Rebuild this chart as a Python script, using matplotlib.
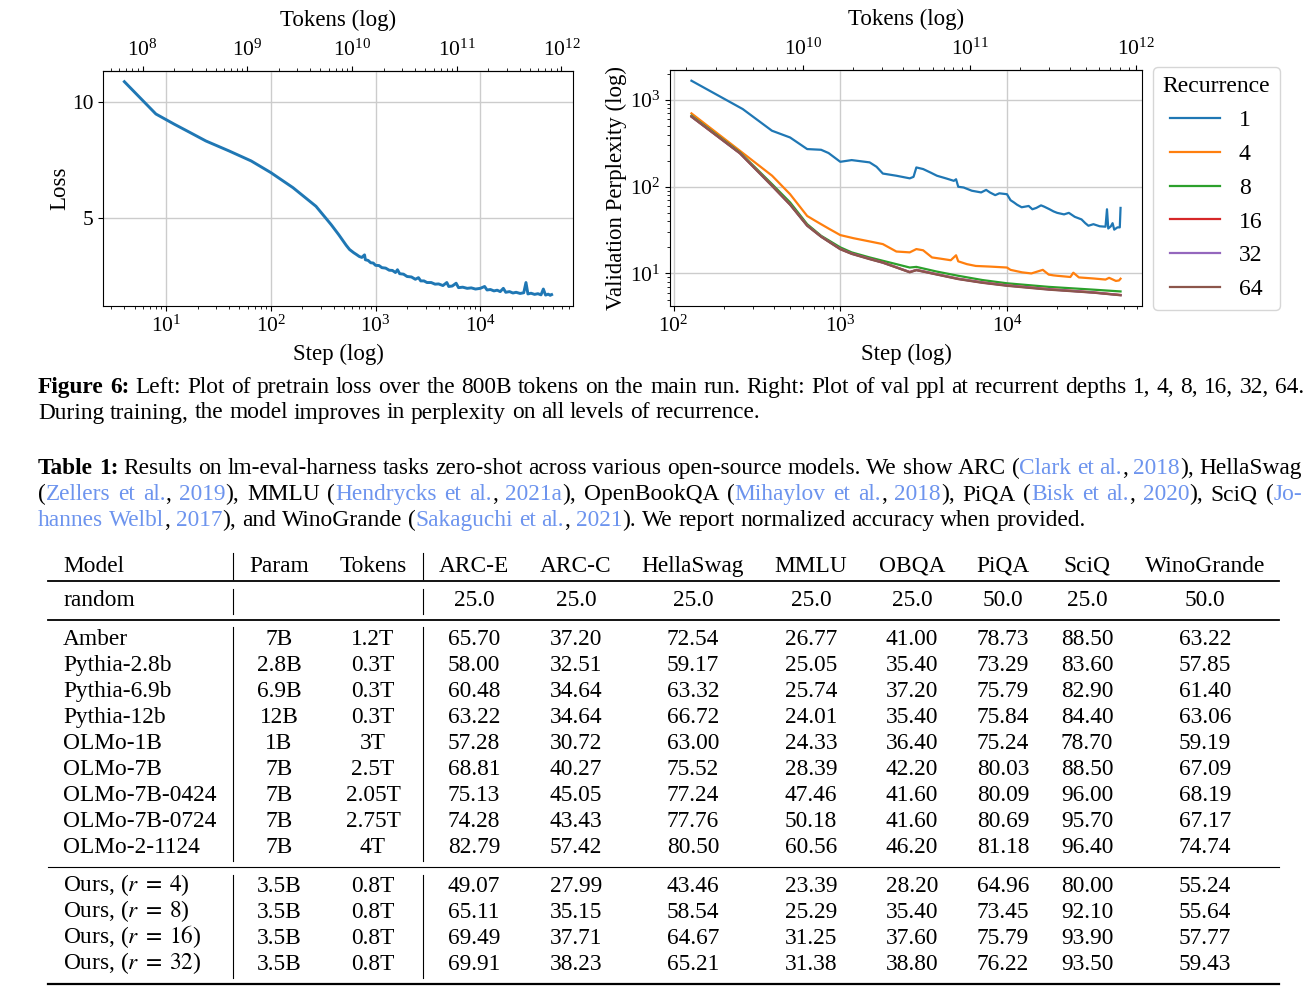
import matplotlib
matplotlib.use('Agg')
import matplotlib.pyplot as plt
from matplotlib.lines import Line2D
import numpy as np

# ---------------- data ----------------
TOKENS_PER_STEP = 4096 * 4096

loss_steps = [4, 8, 12, 17, 24, 40, 65, 100, 163, 270, 377, 445, 525, 565, 620, 660, 700, 740, 785, 800,
              850, 900, 950, 1000, 1080, 1150, 1250, 1350, 1450, 1550, 1620, 1700, 1850, 2000, 2200,
              2400, 2570, 2700, 2900, 3100, 3400, 3700, 4000, 4400, 4790, 5000, 5400, 5880, 6200,
              6800, 7500, 8200, 9000, 10000, 11000, 11600, 12500, 13500, 14500, 15500, 16600, 17500,
              19000, 20500, 22000, 24000, 26000, 27300, 28500, 30500, 33000, 35500, 38000, 40000,
              42000, 44500, 46500, 48000]
loss_vals = [10.86, 9.47, 9.03, 8.67, 8.31, 7.88, 7.45, 6.95, 6.30, 5.50, 4.71, 4.28, 3.82, 3.64, 3.50,
             3.42, 3.34, 3.30, 3.41, 3.20, 3.17, 3.07, 3.06, 2.96, 2.95, 2.86, 2.84, 2.75, 2.74,
             2.65, 2.77, 2.60, 2.58, 2.48, 2.46, 2.36, 2.43, 2.29, 2.29, 2.22, 2.22, 2.15, 2.16,
             2.09, 2.22, 2.05, 2.07, 2.19, 2.00, 2.02, 1.97, 1.99, 1.94, 1.97, 2.05, 1.90, 1.92,
             1.86, 1.89, 1.83, 1.97, 1.80, 1.83, 1.77, 1.80, 1.75, 1.78, 2.22, 1.73, 1.76, 1.71,
             1.74, 1.69, 1.94, 1.68, 1.72, 1.67, 1.70]

ppl_r1_steps = [128, 260, 389, 500, 633, 767, 850, 1000, 1170, 1500, 1650, 1800, 2170, 2610, 2750,
                2860, 3140, 3500, 3800, 4300, 4800, 4950, 5100, 5500, 6150, 7000, 7500, 7900, 8500,
                9000, 10000, 10500, 11000, 11500, 12250, 13500, 14200, 15000, 16000, 16700, 18000,
                19000, 20000, 22000, 23500, 25500, 28000, 29500, 30800, 33000, 36000, 39000, 39800,
                40500, 42000, 43000, 44000, 46000, 47500, 48000]
ppl_r1 = [1671, 787, 443, 370, 272, 267, 245, 194, 203, 191, 170, 142, 134, 125, 130, 167, 160, 145,
          134, 125, 117, 122, 100, 98, 90, 86, 92, 86, 80, 84, 82, 70, 66, 62, 58, 60, 55, 57, 61,
          59, 55, 52, 50, 48, 50, 45, 42, 38, 35.5, 37, 35, 34.6, 55, 33, 35, 38, 32, 34, 34, 57]

ppl_r4_steps = [128, 250, 390, 500, 633, 700, 767, 850, 1000, 1200, 1500, 1800, 2170, 2610, 2860,
                3140, 3550, 4000, 4600, 4950, 5100, 5750, 6500, 7900, 10000, 10500, 12300, 14000,
                16400, 17800, 19000, 20000, 24000, 25000, 27000, 33000, 39000, 41000, 45000, 47000,
                48000]
ppl_r4 = [702, 260, 134, 82, 46, 41, 37, 33, 27.7, 25.5, 23.4, 21.8, 17.9, 17.5, 19.1, 18.5, 15.3,
          14.8, 14.2, 16.2, 13.8, 12.8, 12.2, 12.0, 11.7, 11.0, 10.3, 10.0, 11.0, 9.7, 9.5, 9.4,
          9.1, 10.2, 9.0, 8.75, 8.5, 8.9, 8.2, 8.3, 8.7]

ppl_deep_steps = [128, 250, 390, 500, 633, 767, 1000, 1170, 1500, 1800, 2170, 2610, 2860, 3800, 5100,
                  7100, 10000, 17800, 33000, 48000]
ppl_r8 = [660, 249, 107, 66, 37, 27.2, 20, 17.5, 15.3, 14.0, 12.8, 11.7, 11.9, 10.5, 9.4, 8.4, 7.7,
          7.0, 6.5, 6.2]
ppl_r16 = [646, 244, 103, 62.5, 35.8, 26.7, 19.2, 17.0, 14.8, 13.4, 11.8, 10.4, 11.0, 9.8, 8.7, 7.9,
           7.3, 6.6, 6.05, 5.65]
ppl_r32 = [644, 243, 102, 62.2, 35.6, 26.6, 19.1, 16.9, 14.7, 13.3, 11.75, 10.35, 10.95, 9.75, 8.65,
           7.85, 7.25, 6.55, 6.02, 5.62]
ppl_r64 = [643, 243, 102, 62, 35.5, 26.5, 19, 16.8, 14.6, 13.3, 11.7, 10.3, 10.9, 9.7, 8.6, 7.8, 7.2,
           6.5, 6.0, 5.6]
recurrence_labels = ['1', '4', '8', '16', '32', '64']

table_cols = ['Model', 'Param', 'Tokens', 'ARC-E', 'ARC-C', 'HellaSwag', 'MMLU', 'OBQA', 'PiQA',
              'SciQ', 'WinoGrande']
random_row = ['25.0', '25.0', '25.0', '25.0', '25.0', '50.0', '25.0', '50.0']
models = ['Amber', 'Pythia-2.8b', 'Pythia-6.9b', 'Pythia-12b', 'OLMo-1B', 'OLMo-7B', 'OLMo-7B-0424',
          'OLMo-7B-0724', 'OLMo-2-1124']
params = ['7B', '2.8B', '6.9B', '12B', '1B', '7B', '7B', '7B', '7B']
tokens = ['1.2T', '0.3T', '0.3T', '0.3T', '3T', '2.5T', '2.05T', '2.75T', '4T']
arc_e = ['65.70', '58.00', '60.48', '63.22', '57.28', '68.81', '75.13', '74.28', '82.79']
arc_c = ['37.20', '32.51', '34.64', '34.64', '30.72', '40.27', '45.05', '43.43', '57.42']
hellaswag = ['72.54', '59.17', '63.32', '66.72', '63.00', '75.52', '77.24', '77.76', '80.50']
mmlu = ['26.77', '25.05', '25.74', '24.01', '24.33', '28.39', '47.46', '50.18', '60.56']
obqa = ['41.00', '35.40', '37.20', '35.40', '36.40', '42.20', '41.60', '41.60', '46.20']
piqa = ['78.73', '73.29', '75.79', '75.84', '75.24', '80.03', '80.09', '80.69', '81.18']
sciq = ['88.50', '83.60', '82.90', '84.40', '78.70', '88.50', '96.00', '95.70', '96.40']
winogrande = ['63.22', '57.85', '61.40', '63.06', '59.19', '67.09', '68.19', '67.17', '74.74']

ours_models = [r'Ours, ($r\;=\;4$)', r'Ours, ($r\;=\;8$)', r'Ours, ($r\;=\;16$)', r'Ours, ($r\;=\;32$)']
ours_params = ['3.5B', '3.5B', '3.5B', '3.5B']
ours_tokens = ['0.8T', '0.8T', '0.8T', '0.8T']
ours_arc_e = ['49.07', '65.11', '69.49', '69.91']
ours_arc_c = ['27.99', '35.15', '37.71', '38.23']
ours_hellaswag = ['43.46', '58.54', '64.67', '65.21']
ours_mmlu = ['23.39', '25.29', '31.25', '31.38']
ours_obqa = ['28.20', '35.40', '37.60', '38.80']
ours_piqa = ['64.96', '73.45', '75.79', '76.22']
ours_sciq = ['80.00', '92.10', '93.90', '93.50']
ours_winogrande = ['55.24', '55.64', '57.77', '59.43']

# ---------------- style ----------------
W, H = 1308, 997
plt.rcParams['font.family'] = 'serif'
plt.rcParams['font.serif'] = ['Liberation Serif', 'DejaVu Serif']
plt.rcParams['mathtext.fontset'] = 'stix'
plt.rcParams['xtick.labelsize'] = 15.5
plt.rcParams['ytick.labelsize'] = 15.5
plt.rcParams['axes.labelsize'] = 16.5

BLACK = 'black'
CITE = '#6d94ee'
TXT = 16.8

fig = plt.figure(figsize=(W / 100, H / 100), dpi=100)


def fx(px):
    return px / W


def fy(py):
    return 1 - py / H


def to_tokens(s):
    return np.asarray(s) * TOKENS_PER_STEP


def to_steps(t):
    return np.asarray(t) / TOKENS_PER_STEP


# ---------------- left plot ----------------
ax1 = fig.add_axes([fx(103), fy(306), (573 - 103) / W, (306 - 71) / H])
ax1.plot(loss_steps, loss_vals, color='#1f77b4', lw=2.1)
ax1.set_xscale('log')
ax1.set_yticks([5, 10])
ax1.grid(True, color='#cccccc', lw=1)
ax1.set_axisbelow(True)
ax1.set_xlabel('Step (log)', labelpad=5)
ax1.set_ylabel('Loss', labelpad=1)
sec1 = ax1.secondary_xaxis('top', functions=(to_tokens, to_steps))
sec1.set_xlabel('Tokens (log)', labelpad=10)

# ---------------- right plot ----------------
ax2 = fig.add_axes([fx(670), fy(306), (1142 - 670) / W, (306 - 70) / H])
series = [(ppl_r1_steps, ppl_r1), (ppl_r4_steps, ppl_r4), (ppl_deep_steps, ppl_r8),
          (ppl_deep_steps, ppl_r16), (ppl_deep_steps, ppl_r32), (ppl_deep_steps, ppl_r64)]
for i, ((st, v), lab) in enumerate(zip(series, recurrence_labels)):
    ax2.plot(st, v, color=f'C{i}', lw=1.6, label=lab)
ax2.set_xscale('log')
ax2.set_yscale('log')
ax2.grid(True, which='major', color='#cccccc', lw=1)
ax2.set_axisbelow(True)
ax2.set_xlabel('Step (log)', labelpad=5)
ax2.set_ylabel('Validation Perplexity (log)', labelpad=2)
sec2 = ax2.secondary_xaxis('top', functions=(to_tokens, to_steps))
sec2.set_xlabel('Tokens (log)', labelpad=10)
leg = ax2.legend(title='Recurrence', loc='upper left', bbox_to_anchor=(fx(1153), fy(67)),
                 bbox_transform=fig.transFigure, borderaxespad=0, fontsize=17,
                 title_fontsize=17, handlelength=2.1, labelspacing=0.52)

# ---------------- text helpers ----------------
renderer = fig.canvas.get_renderer()


def text_line(pieces, x0, x1, ybase, size=TXT, justify=True):
    words, cur = [], []
    for txt, col, bold in pieces:
        parts = txt.split(' ')
        for i, p in enumerate(parts):
            if i > 0 and cur:
                words.append(cur)
                cur = []
            if p:
                cur.append((p, col, bold))
    if cur:
        words.append(cur)
    arts, total = [], 0.0
    for w in words:
        wa, ww = [], 0.0
        for p, col, bold in w:
            t = fig.text(0, fy(ybase), p, fontsize=size, color=col,
                         fontweight='bold' if bold else 'normal', va='baseline', ha='left')
            bw = t.get_window_extent(renderer).width
            wa.append((t, bw))
            ww += bw
        arts.append(wa)
        total += ww
    gaps = len(words) - 1
    sp = size * 100 / 72 * 0.25
    if justify and gaps > 0:
        sp = (x1 - x0 - total) / gaps
    x = x0
    for wa in arts:
        for t, bw in wa:
            t.set_x(fx(x))
            x += bw
        x += sp


K, B = BLACK, CITE
text_line([('Figure 6:', K, True),
           (' Left: Plot of pretrain loss over the 800B tokens on the main run. Right: Plot of val ppl at recurrent depths 1, 4, 8, 16, 32, 64.', K, False)],
          38, 1304, 392.5)
text_line([('During training, the model improves in perplexity on all levels of recurrence.', K, False)],
          38, 1304, 418.5, justify=False)
text_line([('Table 1:', K, True),
           (' Results on lm-eval-harness tasks zero-shot across various open-source models. We show ARC (', K, False),
           ('Clark et al.', B, False), (', ', K, False), ('2018', B, False), ('), HellaSwag', K, False)],
          38, 1302, 474)
text_line([('(', K, False), ('Zellers et al.', B, False), (', ', K, False), ('2019', B, False),
           ('), MMLU (', K, False), ('Hendrycks et al.', B, False), (', ', K, False), ('2021a', B, False),
           ('), OpenBookQA (', K, False), ('Mihaylov et al.', B, False), (', ', K, False), ('2018', B, False),
           ('), PiQA (', K, False), ('Bisk et al.', B, False), (', ', K, False), ('2020', B, False),
           ('), SciQ (', K, False), ('Jo-', B, False)],
          38, 1302, 500)
text_line([('hannes Welbl', B, False), (', ', K, False), ('2017', B, False), ('), and WinoGrande (', K, False),
           ('Sakaguchi et al.', B, False), (', ', K, False), ('2021', B, False),
           ('). We report normalized accuracy when provided.', K, False)],
          38, 1302, 526, justify=False)

# ---------------- table ----------------
col_x = [63, 279, 373, 474, 576, 693, 811, 912, 1003, 1087, 1205]


def hline(y, lw):
    fig.add_artist(Line2D([fx(48), fx(1279)], [fy(y), fy(y)], transform=fig.transFigure,
                          color='black', lw=lw))


def vlines(y0, y1):
    for xv in (233, 423):
        fig.add_artist(Line2D([fx(xv), fx(xv)], [fy(y0), fy(y1)], transform=fig.transFigure,
                              color='black', lw=0.8))


def row(cells, ybase):
    for j, c in enumerate(cells):
        if c == '':
            continue
        if j == 0:
            fig.text(fx(col_x[0]), fy(ybase), c, fontsize=TXT, ha='left', va='baseline')
        else:
            fig.text(fx(col_x[j]), fy(ybase), c, fontsize=TXT, ha='center', va='baseline')


row(table_cols, 571.5)
row(['random', '', ''] + random_row, 606.5)
body = list(zip(models, params, tokens, arc_e, arc_c, hellaswag, mmlu, obqa, piqa, sciq, winogrande))
for i, r in enumerate(body):
    row(list(r), 645 + 26 * i)
ours = list(zip(ours_models, ours_params, ours_tokens, ours_arc_e, ours_arc_c, ours_hellaswag,
                ours_mmlu, ours_obqa, ours_piqa, ours_sciq, ours_winogrande))
for i, r in enumerate(ours):
    row(list(r), 891.5 + 26 * i)

hline(580.7, 1.3)
hline(620, 1.3)
hline(866.7, 0.8)
hline(984, 1.6)
vlines(553, 579)
vlines(589, 614)
vlines(627, 861)
vlines(875, 978)

fig.savefig('out.png', dpi=100)
